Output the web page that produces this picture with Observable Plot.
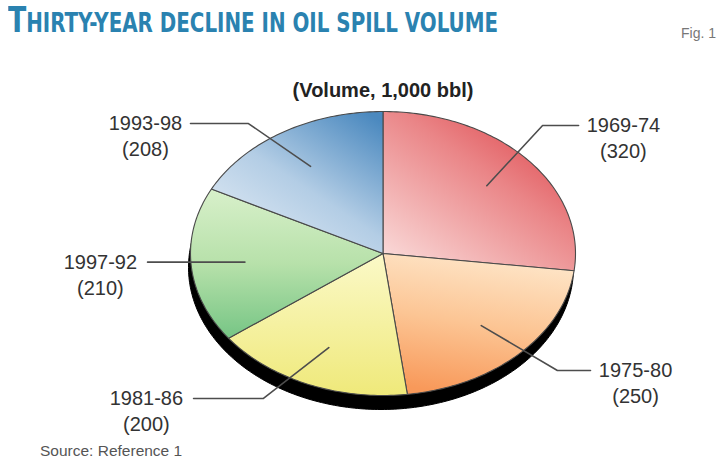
<!DOCTYPE html>
<html>
<head>
<meta charset="utf-8">
<script src="https://cdn.jsdelivr.net/npm/d3@7"></script>
<script src="https://cdn.jsdelivr.net/npm/@observablehq/plot@0.6"></script>
<style>
  body { margin: 0; background: #fff; }
  #wrap { position: relative; width: 720px; height: 459px; overflow: hidden; font-family: "Liberation Sans", Arial, sans-serif; }
  #chart { position: absolute; left: 0; top: 0; }
  #title { position: absolute; left: 8px; top: 2px; white-space: nowrap; color: #2a82b0; font-weight: bold;
           font-family: "Liberation Sans Narrow", "DejaVu Sans Condensed", "Liberation Sans", sans-serif;
           line-height: 36px; transform-origin: 0 0; }
  #fig { position: absolute; left: 681px; top: 25px; font-size: 14px; color: #777; white-space: nowrap; }
  #source { position: absolute; left: 40px; top: 442px; font-size: 15.5px; color: #555; white-space: nowrap; line-height: 18px; }
</style>
</head>
<body>
<svg width="0" height="0" style="position:absolute">
  <defs>
    <linearGradient id="g0" x1="1" y1="0" x2="0.15" y2="1">
      <stop offset="0" stop-color="#db363d"/>
      <stop offset="0.45" stop-color="#ea8587"/>
      <stop offset="1" stop-color="#f9d6d5"/>
    </linearGradient>
    <linearGradient id="g1" x1="0.6" y1="0" x2="0.4" y2="1">
      <stop offset="0" stop-color="#fee6c9"/>
      <stop offset="0.5" stop-color="#fcc594"/>
      <stop offset="1" stop-color="#f8995a"/>
    </linearGradient>
    <linearGradient id="g2" x1="0.5" y1="0" x2="0.5" y2="1">
      <stop offset="0" stop-color="#fbf9c8"/>
      <stop offset="1" stop-color="#efe97a"/>
    </linearGradient>
    <linearGradient id="g3" x1="0.5" y1="0" x2="0.5" y2="1">
      <stop offset="0" stop-color="#d8f0ca"/>
      <stop offset="0.5" stop-color="#b7e1aa"/>
      <stop offset="1" stop-color="#76c585"/>
    </linearGradient>
    <linearGradient id="g4" x1="0.9" y1="0" x2="0.1" y2="1">
      <stop offset="0" stop-color="#4b89bf"/>
      <stop offset="0.5" stop-color="#b3cde5"/>
      <stop offset="1" stop-color="#e6eef6"/>
    </linearGradient>
  </defs>
</svg>
<div id="wrap">
  <div id="chart"></div>
  <div id="title"><span style="font-size:35px">T</span><span style="font-size:26px">HIRTY-YEAR DECLINE IN OIL SPILL VOLUME</span></div>
  <div id="fig">Fig. 1</div>
  <div id="source">Source: Reference 1</div>
</div>
<script>
// ---- data ----
const periods = ["1969-74", "1975-80", "1981-86", "1997-92", "1993-98"];
const volumes = [320, 250, 200, 210, 208];
const subtitle = "(Volume, 1,000 bbl)";

// ---- styles / layout (not data) ----
const sliceFills = ["url(#g0)", "url(#g1)", "url(#g2)", "url(#g3)", "url(#g4)"];
// leader-line layout in unit-ellipse coordinates
const labelLayout = [
  {elbow: [0.829, 0.901], endX: 1.016, textX: 1.249},
  {elbow: [0.906, -0.824], endX: 1.078, textX: 1.312},
  {elbow: [-0.621, -1.021], endX: -0.984, textX: -1.229},
  {elbow: null, endX: -1.223, textX: -1.468},
  {elbow: [-0.699, 0.915], endX: -1.0, textX: -1.234}
];
const anchorR = 0.72;

// ---- geometry from values ----
const arcs = d3.pie().sort(null).value(d => d)(volumes);
const slices = arcs.flatMap((a, i) => {
  const pts = [{k: i, x: 0, y: 0}];
  const n = Math.max(2, Math.ceil((a.endAngle - a.startAngle) / (Math.PI / 180)));
  for (let j = 0; j <= n; j++) {
    const t = a.startAngle + (a.endAngle - a.startAngle) * j / n;
    pts.push({k: i, x: Math.sin(t), y: Math.cos(t)});
  }
  pts.push({k: i, x: 0, y: 0});
  return pts;
});
const rim = d3.range(0, 361).map(d => ({x: Math.sin(d * Math.PI / 180), y: Math.cos(d * Math.PI / 180)}));

const leaders = arcs.flatMap((a, i) => {
  const m = (a.startAngle + a.endAngle) / 2;
  const ax = anchorR * Math.sin(m), ay = anchorR * Math.cos(m);
  const L = labelLayout[i];
  const pts = [{k: i, x: ax, y: ay}];
  let ly = ay;
  if (L.elbow) { pts.push({k: i, x: L.elbow[0], y: L.elbow[1]}); ly = L.elbow[1]; }
  pts.push({k: i, x: L.endX, y: ly});
  return pts;
});
const labels = arcs.map((a, i) => {
  const m = (a.startAngle + a.endAngle) / 2;
  const L = labelLayout[i];
  const ly = L.elbow ? L.elbow[1] : anchorR * Math.cos(m);
  return {period: periods[i], vol: `(${volumes[i]})`, x: L.textX, y: ly};
});

const font = {fontFamily: "'Liberation Sans', Arial, sans-serif", fontSize: 20, fill: "#333"};

const chart = Plot.plot({
  width: 720,
  height: 459,
  margin: 0,
  style: {background: "transparent", overflow: "visible"},
  x: {domain: [-1, 1], range: [190, 575], axis: null},
  y: {domain: [-1, 1], range: [395, 111], axis: null},
  color: {type: "identity"},
  marks: [
    Plot.line(rim, {x: "x", y: "y", fill: "#000", stroke: "#000", strokeWidth: 1, dy: 14, dx: -2}),
    Plot.line(slices, {x: "x", y: "y", z: "k", fill: d => sliceFills[d.k], stroke: "#4a4a4a", strokeWidth: 1.1, strokeLinejoin: "round"}),
    Plot.line(leaders, {x: "x", y: "y", z: "k", stroke: "#4d4d4d", strokeWidth: 1.6}),
    Plot.text(labels, {x: "x", y: "y", text: "period", ...font}),
    Plot.text(labels, {x: "x", y: "y", text: "vol", dy: 26, ...font}),
    Plot.text([subtitle], {x: () => 0, y: () => 1.148, text: d => d, fontSize: 20, fontWeight: "bold", fill: "#222", fontFamily: "'Liberation Sans', Arial, sans-serif"})
  ]
});
document.getElementById("chart").appendChild(chart);

// fit title width like the condensed original
const title = document.getElementById("title");
const w = title.getBoundingClientRect().width;
title.style.transform = `scaleX(${490 / w})`;
</script>
</body>
</html>
